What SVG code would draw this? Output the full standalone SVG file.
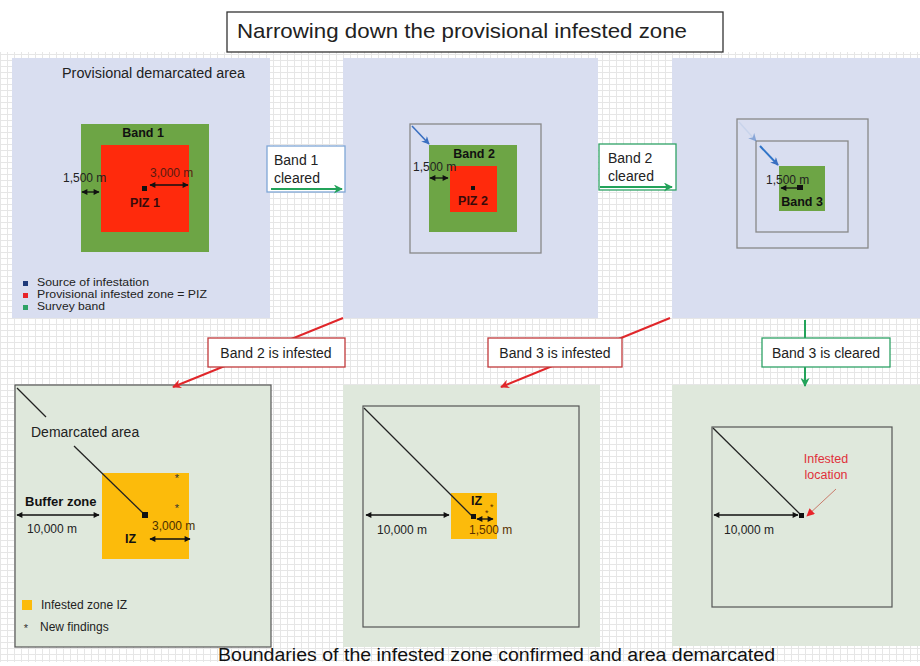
<svg xmlns="http://www.w3.org/2000/svg" width="920" height="666" viewBox="0 0 920 666">
<defs>
<pattern id="grid" width="7" height="6" patternUnits="userSpaceOnUse">
<path d="M0,0.5 H7 M0.5,0 V6" stroke="#e6e6e6" stroke-width="1" fill="none"/>
</pattern>
<marker id="ah" viewBox="0 0 10 10" refX="9" refY="5" markerWidth="7" markerHeight="6" markerUnits="userSpaceOnUse" orient="auto-start-reverse"><path d="M0,0 L10,5 L0,10 z" fill="#111"/></marker>
<marker id="ahRed" viewBox="0 0 10 10" refX="9" refY="5" markerWidth="10" markerHeight="9" markerUnits="userSpaceOnUse" orient="auto"><path d="M0,0 L10,5 L0,10 L3,5 z" fill="#e0262a"/></marker>
<marker id="ahGreen" viewBox="0 0 10 10" refX="9" refY="5" markerWidth="10" markerHeight="9" markerUnits="userSpaceOnUse" orient="auto"><path d="M0,0 L10,5 L0,10 L3,5 z" fill="#23a35a"/></marker>
<marker id="ahBlue" viewBox="0 0 10 10" refX="9" refY="5" markerWidth="9" markerHeight="8" markerUnits="userSpaceOnUse" orient="auto"><path d="M0,0 L10,5 L0,10 L3,5 z" fill="#3a6fc0"/></marker>
<marker id="ahRedSm" viewBox="0 0 10 10" refX="9" refY="5" markerWidth="9" markerHeight="8" markerUnits="userSpaceOnUse" orient="auto"><path d="M0,0 L10,5 L0,10 z" fill="#e8242a"/></marker>
<style>
text{font-family:"Liberation Sans",Arial,sans-serif;fill:#222}
.top{fill:#d9def0}
.bot{fill:#dfe8dc}
.band{fill:#6da545}
.piz{fill:#ff2a0c}
.iz{fill:#fcbb0b}
.sq{fill:none;stroke:#888;stroke-width:1.3}
.dsq{fill:none;stroke:#555;stroke-width:1.2}
.b{font-weight:bold;font-size:12.5px;fill:#111}
.dim{font-size:12px;fill:#222}
.leg{font-size:11px;fill:#222}
.dl{stroke:#111;stroke-width:1.3;fill:none;marker-start:url(#ah);marker-end:url(#ah)}
.ln{stroke:#222;stroke-width:1.3;fill:none}
.lbl{font-size:14px;fill:#222}
.boxR{fill:#fff;stroke:#c0393b;stroke-width:1.3}
.boxG{fill:#fff;stroke:#2ea266;stroke-width:1.3}
.boxB{fill:#fff;stroke:#7fa6d6;stroke-width:1.3}
</style>
</defs>
<rect x="0" y="0" width="920" height="666" fill="#fff"/>
<rect x="0" y="52" width="920" height="610" fill="url(#grid)"/>

<g id="title">
<rect x="227" y="12" width="496" height="40" fill="#fff" stroke="#333" stroke-width="1.3"/>
<text x="237" y="38" style="font-size:21px" textLength="450" lengthAdjust="spacingAndGlyphs">Narrowing down the provisional infested zone</text>
</g>

<g id="panel-provisional">
<rect class="top" x="12" y="58" width="258" height="260"/>
<text x="62" y="78" style="font-size:14px" textLength="183" lengthAdjust="spacingAndGlyphs">Provisional demarcated area</text>
<rect class="band" x="81" y="124" width="128" height="128"/>
<rect class="piz" x="101" y="145" width="88" height="87"/>
<text class="b" x="143" y="137" text-anchor="middle">Band 1</text>
<text class="b" x="145" y="207" text-anchor="middle" style="fill:#3a0a0a">PIZ 1</text>
<text class="dim" x="150" y="177" style="fill:#5a1a10">3,000 m</text>
<text class="dim" x="63" y="182">1,500 m</text>
<path class="dl" d="M82,192 H99"/>
<path class="dl" d="M150,185 H188"/>
<rect x="142" y="186" width="5" height="5" fill="#111"/>
<rect x="23" y="281" width="5" height="5" fill="#1f3a7a"/>
<text class="leg" x="37" y="286" textLength="112" lengthAdjust="spacingAndGlyphs">Source of infestation</text>
<rect x="23" y="293" width="5" height="5" fill="#e8242a"/>
<text class="leg" x="37" y="298" textLength="170" lengthAdjust="spacingAndGlyphs">Provisional infested zone = PIZ</text>
<rect x="23" y="305" width="5" height="5" fill="#2ea266"/>
<text class="leg" x="37" y="310" textLength="68" lengthAdjust="spacingAndGlyphs">Survey band</text>
</g>

<g id="panel-band2">
<rect class="top" x="343" y="58" width="255" height="260"/>
<rect class="sq" x="410" y="124" width="131" height="129"/>
<rect class="band" x="429" y="145" width="88" height="87"/>
<rect class="piz" x="450" y="166" width="47" height="46"/>
<text class="b" x="474" y="158" text-anchor="middle">Band 2</text>
<text class="b" x="473" y="205" text-anchor="middle" style="fill:#3a0a0a">PIZ 2</text>
<text class="dim" x="413" y="171">1,500 m</text>
<path class="dl" d="M430,178 H448"/>
<rect x="471" y="186" width="4" height="4" fill="#111"/>
<path d="M412,126 L429,144" stroke="#3a6fc0" stroke-width="1.6" marker-end="url(#ahBlue)"/>
</g>

<g id="panel-band3">
<rect class="top" x="672" y="58" width="248" height="260"/>
<rect class="sq" x="737" y="119" width="131" height="129"/>
<rect class="sq" x="756" y="141" width="92" height="91"/>
<rect class="band" x="779" y="166" width="46" height="45"/>
<text class="b" x="802" y="206" text-anchor="middle">Band 3</text>
<text class="dim" x="766" y="184">1,500 m</text>
<path d="M781,188 H798" stroke="#111" stroke-width="1.3" marker-start="url(#ah)"/>
<rect x="797" y="185" width="6" height="5" fill="#111"/>
<path d="M739,122 L756,141" stroke="#b9cbe8" stroke-width="1.3" marker-end="url(#ahBlue)" opacity="0.5"/>
<path d="M760,146 L778,165" stroke="#2f74c8" stroke-width="2" marker-end="url(#ahBlue)"/>
</g>

<g id="label-band1-cleared">
<rect class="boxB" x="267" y="146" width="78" height="46"/>
<text class="lbl" x="274" y="165">Band 1</text>
<text class="lbl" x="274" y="183">cleared</text>
</g>

<g id="label-band2-cleared">
<rect class="boxG" x="599" y="144" width="77" height="46"/>
<text class="lbl" x="608" y="163">Band 2</text>
<text class="lbl" x="608" y="181">cleared</text>
</g>

<g id="panel-iz-large">
<rect class="bot" x="15" y="385" width="256" height="262" stroke="#555" stroke-width="1.2"/>
<rect class="iz" x="102" y="473" width="87" height="86"/>
<text x="31" y="437" style="font-size:14px">Demarcated area</text>
<path class="ln" d="M17,388 L46,417"/>
<path class="ln" d="M74,446 L145,515"/>
<rect x="142" y="512" width="6" height="6" fill="#111"/>
<text class="b" x="25" y="506" style="font-size:13px">Buffer zone</text>
<path class="dl" d="M17,515 H99"/>
<text class="dim" x="27" y="533">10,000 m</text>
<text class="dim" x="152" y="530" style="fill:#4a3000">3,000 m</text>
<path class="dl" d="M150,539 H190"/>
<text class="b" x="125" y="543">IZ</text>
<text x="177" y="482" text-anchor="middle" style="font-size:11px;fill:#333">*</text>
<text x="177" y="512" text-anchor="middle" style="font-size:11px;fill:#333">*</text>
<rect class="iz" x="22" y="600" width="10" height="10"/>
<text class="dim" x="41" y="609">Infested zone IZ</text>
<text x="26" y="632" text-anchor="middle" style="font-size:11px;fill:#333">*</text>
<text class="dim" x="40" y="631">New findings</text>
</g>

<g id="panel-iz-small">
<rect class="bot" x="343" y="385" width="257" height="262"/>
<rect class="dsq" x="363" y="406" width="216" height="221"/>
<rect class="iz" x="451" y="493" width="46" height="46"/>
<path class="ln" d="M364,408 L473,517"/>
<rect x="471" y="514" width="5" height="5" fill="#111"/>
<path class="dl" d="M366,515 H449"/>
<text class="dim" x="377" y="534">10,000 m</text>
<text class="b" x="471" y="505">IZ</text>
<text x="485" y="516" style="font-size:9px;fill:#5a3000">*</text>
<text x="490" y="510" style="font-size:9px;fill:#5a3000">*</text>
<path class="dl" d="M477,519 H493"/>
<text class="dim" x="469" y="534" style="fill:#5a3000">1,500 m</text>
</g>

<g id="panel-location">
<rect class="bot" x="672" y="385" width="248" height="261"/>
<rect class="dsq" x="712" y="427" width="180" height="180"/>
<path class="ln" d="M713,428 L802,516"/>
<rect x="799" y="513" width="5" height="5" fill="#111"/>
<path class="dl" d="M714,515 H798"/>
<text class="dim" x="724" y="534">10,000 m</text>
<text x="826" y="463" text-anchor="middle" style="font-size:12.5px;fill:#e0303a">Infested</text>
<text x="826" y="479" text-anchor="middle" style="font-size:12.5px;fill:#e0303a">location</text>
<path d="M836,489 L807,516" stroke="#c87a6a" stroke-width="1" marker-end="url(#ahRedSm)"/>
</g>

<g id="connectors">
<path d="M271,189 H342" stroke="#23a35a" stroke-width="2.2" marker-end="url(#ahGreen)"/>
<path d="M600,187 H672" stroke="#23a35a" stroke-width="2.2" marker-end="url(#ahGreen)"/>
<path d="M343,318 L173,387" stroke="#e0262a" stroke-width="2" marker-end="url(#ahRed)"/>
<path d="M670,318 L501,387" stroke="#e0262a" stroke-width="2" marker-end="url(#ahRed)"/>
<path d="M805,320 V386" stroke="#23a35a" stroke-width="2" marker-end="url(#ahGreen)"/>
</g>

<g id="label-band2-infested">
<rect class="boxR" x="208" y="338" width="137" height="29"/>
<text class="lbl" x="276" y="358" text-anchor="middle">Band 2 is infested</text>
</g>
<g id="label-band3-infested">
<rect class="boxR" x="488" y="338" width="134" height="29"/>
<text class="lbl" x="555" y="358" text-anchor="middle">Band 3 is infested</text>
</g>
<g id="label-band3-cleared">
<rect class="boxG" x="762" y="338" width="128" height="29"/>
<text class="lbl" x="826" y="358" text-anchor="middle">Band 3 is cleared</text>
</g>

<g id="caption">
<text x="218" y="661" style="font-size:18px;fill:#111" textLength="557" lengthAdjust="spacingAndGlyphs">Boundaries of the infested zone confirmed and area demarcated</text>
</g>
</svg>
